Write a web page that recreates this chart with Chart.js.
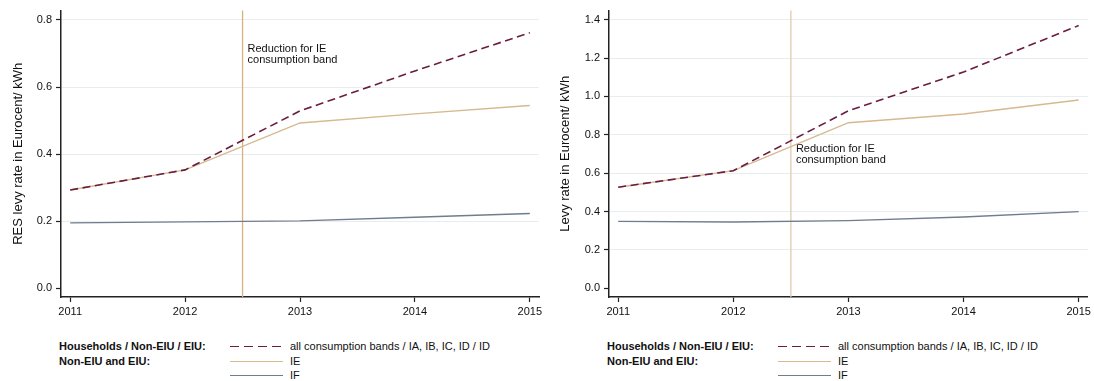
<!DOCTYPE html>
<html lang="en">
<head>
    <meta charset="UTF-8">
    <title>RES levy rates</title>
    <script src="https://cdn.jsdelivr.net/npm/chart.js"></script>
    <style>
        body {
            margin: 0;
            background: #fff;
            font-family: "Liberation Sans", Arial, sans-serif;
            width: 1094px;
            height: 381px;
            position: relative;
            overflow: hidden;
        }
        .panel {
            position: absolute;
            top: 0;
            width: 547px;
            height: 320px;
        }
        .legend {
            position: absolute;
            top: 339px;
            font-size: 11px;
            color: #111;
        }
        .legend .row {
            position: relative;
            height: 14.5px;
            line-height: 14px;
        }
        .legend .lbl {
            position: absolute;
            left: 0;
            font-weight: bold;
            white-space: nowrap;
        }
        .legend .sample {
            position: absolute;
            top: 7px;
            width: 53px;
            height: 1px;
        }
        .legend .txt {
            position: absolute;
            white-space: nowrap;
        }
    </style>
</head>
<body>
    <div class="panel" style="left:0"><canvas id="resChart"></canvas></div>
    <div class="panel" style="left:547px"><canvas id="levyChart"></canvas></div>

    <div class="legend" style="left:59px" id="legendLeft"></div>
    <div class="legend" style="left:607px" id="legendRight"></div>

    <script>
        const years = [2011, 2012, 2013, 2014, 2015];
        const reductionYear = 2012.5;

        // left panel: RES levy rate
        const resAllBands = [0.293, 0.353, 0.529, 0.648, 0.762];
        const resIE = [0.293, 0.353, 0.493, 0.520, 0.545];
        const resIF = [0.195, 0.198, 0.201, 0.212, 0.223];
        const resTicks = [0, 0.2, 0.4, 0.6, 0.8];

        // right panel: levy rate
        const levyAllBands = [0.527, 0.613, 0.925, 1.127, 1.369];
        const levyIE = [0.527, 0.613, 0.863, 0.908, 0.981];
        const levyIF = [0.349, 0.346, 0.353, 0.372, 0.400];
        const levyTicks = [0, 0.2, 0.4, 0.6, 0.8, 1.0, 1.2, 1.4];

        const legendLabels = ['Households / Non-EIU / EIU:', 'Non-EIU and EIU:', ''];
        const seriesNames = ['all consumption bands / IA, IB, IC, ID / ID', 'IE', 'IF'];
        const noteLines = ['Reduction for IE', 'consumption band'];

        const colAll = '#6b1d40';
        const colIE = '#d6b98f';
        const colIF = '#6f7d8e';
        const font = { family: '"Liberation Sans", Arial, sans-serif', size: 11 };

        const toPoints = (vals) => vals.map((v, i) => ({ x: years[i], y: v }));

        const reductionPlugin = {
            id: 'reduction',
            beforeDatasetsDraw(chart, args, opts) {
                const { ctx, chartArea, scales } = chart;
                const x = scales.x.getPixelForValue(reductionYear);
                ctx.save();
                ctx.strokeStyle = opts.color;
                ctx.lineWidth = 1.3;
                ctx.beginPath();
                ctx.moveTo(x, chartArea.top);
                ctx.lineTo(x, chartArea.bottom);
                ctx.stroke();
                ctx.fillStyle = '#111';
                ctx.font = '11px "Liberation Sans", Arial, sans-serif';
                ctx.textBaseline = 'middle';
                const y0 = scales.y.getPixelForValue(opts.textY);
                noteLines.forEach((t, i) => ctx.fillText(t, x + 5, y0 + i * 11.5));
                ctx.restore();
            }
        };

        function makeChart(id, all, ie, iF, ticks, yMin, yMax, title, padRight, noteY, lineCol) {
            return new Chart(document.getElementById(id).getContext('2d'), {
                type: 'line',
                data: {
                    datasets: [
                        { label: seriesNames[0], data: toPoints(all), borderColor: colAll, borderWidth: 1.6, borderDash: [8, 4.5] },
                        { label: seriesNames[1], data: toPoints(ie), borderColor: colIE, borderWidth: 1.4 },
                        { label: seriesNames[2], data: toPoints(iF), borderColor: colIF, borderWidth: 1.4 }
                    ]
                },
                options: {
                    responsive: true,
                    maintainAspectRatio: false,
                    animation: false,
                    elements: { point: { radius: 0 }, line: { tension: 0 } },
                    layout: { padding: { top: 10, right: padRight, left: 0, bottom: 0 } },
                    plugins: {
                        legend: { display: false },
                        tooltip: { enabled: false },
                        reduction: { textY: noteY, color: lineCol }
                    },
                    scales: {
                        x: {
                            type: 'linear',
                            min: 2010.92,
                            max: 2015.08,
                            afterBuildTicks: (s) => { s.ticks = years.map(v => ({ value: v })); },
                            afterFit: (s) => { s.height = 23; },
                            ticks: { font: font, color: '#111', padding: 3, maxRotation: 0, callback: (v) => String(v) },
                            grid: { drawOnChartArea: false, tickLength: 5, tickColor: '#222', tickWidth: 1.2 },
                            border: { color: '#222', width: 1.5 }
                        },
                        y: {
                            min: yMin,
                            max: yMax,
                            afterBuildTicks: (s) => { s.ticks = ticks.map(v => ({ value: v })); },
                            afterFit: (s) => { s.width = id === 'resChart' ? 61 : 62; },
                            ticks: { font: font, color: '#111', padding: 4, callback: (v) => v.toFixed(1) },
                            grid: {
                                color: (c) => c.tick && c.tick.value === 0 ? 'rgba(0,0,0,0)' : '#e8eef0',
                                lineWidth: 1,
                                tickLength: 5,
                                tickColor: '#222',
                                tickWidth: 1.2
                            },
                            border: { color: '#222', width: 1.5 },
                            title: {
                                display: true,
                                text: title,
                                font: { family: font.family, size: 13 },
                                color: '#111',
                                padding: { top: 11, bottom: 0 }
                            }
                        }
                    }
                },
                plugins: [reductionPlugin]
            });
        }

        makeChart('resChart', resAllBands, resIE, resIF, resTicks, -0.026, 0.828,
            'RES levy rate in Eurocent/ kWh', 8, 0.715, '#d6b283');
        makeChart('levyChart', levyAllBands, levyIE, levyIF, levyTicks, -0.045, 1.447,
            'Levy rate in Eurocent/ kWh', 5, 0.727, '#dfccaf');

        function buildLegend(el) {
            const styles = [
                'background:repeating-linear-gradient(to right,' + colAll + ' 0 9px,transparent 9px 14px)',
                'background:' + colIE,
                'background:' + colIF
            ];
            seriesNames.forEach((name, i) => {
                const row = document.createElement('div');
                row.className = 'row';
                row.innerHTML = '<span class="lbl">' + legendLabels[i] + '</span>' +
                    '<span class="sample" style="left:171px;' + styles[i] + '"></span>' +
                    '<span class="txt" style="left:231px">' + name + '</span>';
                el.appendChild(row);
            });
        }
        buildLegend(document.getElementById('legendLeft'));
        buildLegend(document.getElementById('legendRight'));
    </script>
</body>
</html>
